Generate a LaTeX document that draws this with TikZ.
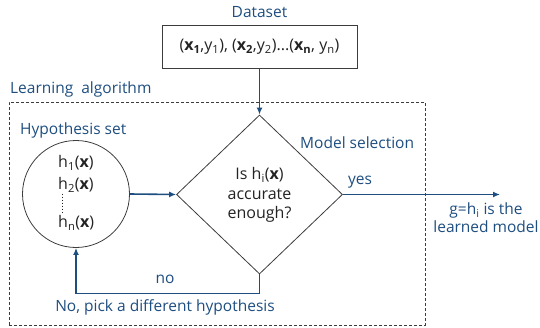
\documentclass[tikz,border=0pt]{standalone}
\usepackage{fontspec}
\setmainfont{Open Sans}
\usetikzlibrary{shapes.geometric,arrows.meta}
\definecolor{iblue}{RGB}{30,78,128}
\definecolor{itext}{RGB}{35,35,35}
\definecolor{iline}{RGB}{60,60,60}
\begin{document}
\begin{tikzpicture}[x=1pt,y=-1pt,
  lbl/.style={text=iblue,font=\fontsize{15.5}{18}\selectfont,inner sep=0},
  txt/.style={text=itext,font=\fontsize{16}{19.5}\selectfont,inner sep=0},
  shp/.style={draw=iline,line width=0.8pt},
  dashbox/.style={draw=iline,line width=0.8pt,dash pattern=on 3pt off 2pt},
  arr/.style={draw=iblue,line width=1.6pt,-{Latex[length=7pt,width=6pt]}},
  ]
\useasboundingbox (0,0) rectangle (540,327);
% learning algorithm frame
\node[dashbox,minimum width=416pt,minimum height=223pt,inner sep=0] (alg) at (217,213.5) {};
\node[lbl,anchor=west] (la) at (10,89) {Learning\ \ algorithm};
% dataset
\node[lbl] (dsl) at (259.5,12) {Dataset};
\node[shp,minimum width=195pt,minimum height=43pt,inner sep=0] (data) at (259.5,47) {};
\node[txt] (datat) at (259.5,47) {(\textbf{x\textsubscript{1}},y\textsubscript{1}), (\textbf{x\textsubscript{2}},y\textsubscript{2})...(\textbf{x\textsubscript{n}}, y\textsubscript{n})};
% hypothesis set
\node[lbl,anchor=west] (hs) at (20,130) {Hypothesis set};
\node[shp,circle,minimum size=107pt,inner sep=0] (hyp) at (76,194) {};
\node[txt,anchor=west] (h1) at (58,163) {h\textsubscript{1}(\textbf{x})};
\node[txt,anchor=west] (h2) at (58,185) {h\textsubscript{2}(\textbf{x})};
\node[txt,anchor=west] (hn) at (58,223) {h\textsubscript{n}(\textbf{x})};
\draw[itext,line width=1pt,dotted] ([xshift=4pt,yshift=-1pt]h2.south west) -- ([xshift=4pt,yshift=1pt]hn.north west);
% model selection
\node[lbl,anchor=west] (ms) at (300,143) {Model selection};
\node[shp,diamond,minimum width=166pt,minimum height=159pt,inner sep=0] (dia) at (259.5,194.5) {};
\node[txt,align=center] (q) at (259.5,195) {Is h\textsubscript{i}(\textbf{x})\\accurate\\enough?};
% connectors
\draw[arr] (data.south) -- (dia.north);
\draw[arr] (hyp.east) -- (dia.west);
\draw[arr] (dia.south) -- ++(0,19) -| (hyp.south);
\coordinate (out) at (500,194.5);
\draw[arr] (dia.east) -- (out);
% labels
\node[lbl] (yes) at (360,182) {yes};
\node[lbl] (no) at (165,279) {no};
\node[lbl] (pick) at (165,307) {No, pick a different hypothesis};
\node[lbl,align=center] (g) at (486,218) {g=h\textsubscript{i} is the\\learned model};
\end{tikzpicture}
\end{document}
